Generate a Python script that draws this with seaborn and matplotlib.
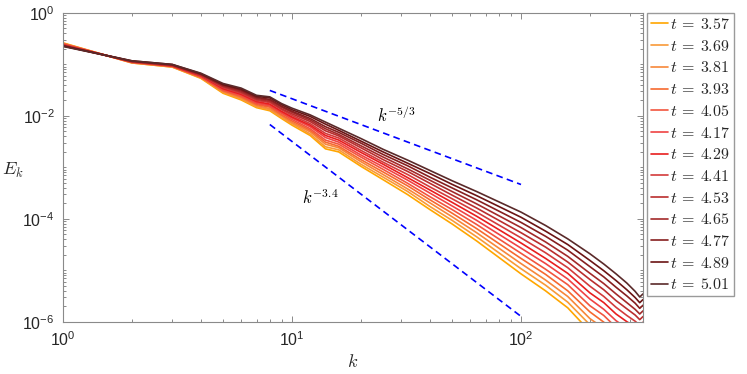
import numpy as np
import pandas as pd
import matplotlib
matplotlib.use("Agg")
import matplotlib.pyplot as plt
import seaborn as sns
from matplotlib.ticker import FixedLocator, LogLocator, NullFormatter

# ---------------- data ----------------
k = [1, 2, 3, 4, 5, 6, 7, 8, 9, 10, 12, 14, 16, 20, 25, 32, 40, 50, 64, 80,
     100, 128, 160, 200, 230, 260, 290, 315, 330, 341]

times = ["3.57", "3.69", "3.81", "3.93", "4.05", "4.17", "4.29", "4.41",
         "4.53", "4.65", "4.77", "4.89", "5.01"]

# log10(E_k), one list per time
logE_357 = [-0.58, -0.97, -1.05, -1.27, -1.56, -1.69, -1.84, -1.90, -2.05, -2.18, -2.38, -2.64, -2.70, -2.98, -3.24, -3.53, -3.82, -4.10, -4.43, -4.75, -5.07, -5.40, -5.73, -6.19, -6.38, -6.63, -6.75, -6.79, -6.84, -6.78]
logE_369 = [-0.59, -0.97, -1.05, -1.26, -1.54, -1.67, -1.82, -1.88, -2.03, -2.15, -2.35, -2.60, -2.66, -2.94, -3.19, -3.47, -3.76, -4.03, -4.35, -4.66, -4.97, -5.29, -5.62, -6.06, -6.26, -6.50, -6.63, -6.68, -6.73, -6.67]
logE_381 = [-0.59, -0.96, -1.04, -1.25, -1.53, -1.65, -1.80, -1.86, -2.00, -2.13, -2.31, -2.55, -2.62, -2.89, -3.14, -3.42, -3.69, -3.96, -4.27, -4.57, -4.87, -5.19, -5.51, -5.94, -6.13, -6.37, -6.50, -6.56, -6.62, -6.56]
logE_393 = [-0.60, -0.96, -1.04, -1.25, -1.51, -1.63, -1.78, -1.83, -1.98, -2.10, -2.28, -2.51, -2.59, -2.85, -3.09, -3.36, -3.63, -3.89, -4.19, -4.48, -4.77, -5.08, -5.40, -5.81, -6.01, -6.24, -6.38, -6.45, -6.51, -6.45]
logE_405 = [-0.60, -0.96, -1.03, -1.24, -1.50, -1.61, -1.76, -1.81, -1.95, -2.07, -2.25, -2.47, -2.55, -2.80, -3.04, -3.31, -3.57, -3.82, -4.11, -4.39, -4.67, -4.98, -5.28, -5.69, -5.88, -6.11, -6.25, -6.33, -6.40, -6.34]
logE_417 = [-0.61, -0.95, -1.03, -1.23, -1.48, -1.59, -1.74, -1.79, -1.93, -2.04, -2.21, -2.42, -2.51, -2.76, -2.99, -3.25, -3.50, -3.75, -4.03, -4.30, -4.57, -4.87, -5.17, -5.56, -5.76, -5.98, -6.13, -6.22, -6.29, -6.23]
logE_429 = [-0.62, -0.95, -1.03, -1.22, -1.47, -1.58, -1.72, -1.77, -1.91, -2.02, -2.18, -2.38, -2.47, -2.71, -2.94, -3.20, -3.44, -3.68, -3.95, -4.21, -4.47, -4.77, -5.06, -5.44, -5.63, -5.85, -6.00, -6.10, -6.18, -6.12]
logE_441 = [-0.62, -0.95, -1.02, -1.21, -1.45, -1.56, -1.70, -1.74, -1.88, -1.99, -2.15, -2.34, -2.43, -2.67, -2.90, -3.14, -3.38, -3.61, -3.87, -4.12, -4.37, -4.66, -4.95, -5.31, -5.51, -5.72, -5.88, -5.99, -6.07, -6.01]
logE_453 = [-0.63, -0.94, -1.02, -1.20, -1.43, -1.54, -1.68, -1.72, -1.86, -1.96, -2.11, -2.29, -2.39, -2.62, -2.85, -3.08, -3.31, -3.54, -3.79, -4.03, -4.27, -4.55, -4.84, -5.18, -5.38, -5.59, -5.75, -5.87, -5.96, -5.90]
logE_465 = [-0.63, -0.94, -1.01, -1.20, -1.42, -1.52, -1.66, -1.70, -1.83, -1.93, -2.08, -2.25, -2.36, -2.58, -2.80, -3.03, -3.25, -3.47, -3.71, -3.94, -4.17, -4.45, -4.73, -5.06, -5.26, -5.46, -5.63, -5.76, -5.85, -5.79]
logE_477 = [-0.64, -0.94, -1.01, -1.19, -1.40, -1.50, -1.64, -1.68, -1.81, -1.91, -2.05, -2.21, -2.32, -2.53, -2.75, -2.97, -3.19, -3.40, -3.63, -3.85, -4.07, -4.34, -4.61, -4.93, -5.13, -5.33, -5.50, -5.64, -5.74, -5.68]
logE_489 = [-0.64, -0.93, -1.00, -1.18, -1.39, -1.48, -1.62, -1.65, -1.78, -1.88, -2.01, -2.16, -2.28, -2.49, -2.70, -2.92, -3.12, -3.33, -3.55, -3.76, -3.97, -4.24, -4.50, -4.81, -5.01, -5.20, -5.38, -5.53, -5.63, -5.57]
logE_501 = [-0.65, -0.93, -1.00, -1.17, -1.37, -1.46, -1.60, -1.63, -1.76, -1.85, -1.98, -2.12, -2.24, -2.44, -2.65, -2.86, -3.06, -3.26, -3.47, -3.67, -3.87, -4.13, -4.39, -4.68, -4.88, -5.07, -5.25, -5.41, -5.52, -5.46]

series = [logE_357, logE_369, logE_381, logE_393, logE_405, logE_417, logE_429,
          logE_441, logE_453, logE_465, logE_477, logE_489, logE_501]

colors = ["#FFA600", "#F89A38", "#F7873A", "#F6692F", "#F2553E", "#EF4343",
          "#E81E1E", "#D33B3B", "#BA2E2E", "#A32A2A", "#861F1F", "#6B1414",
          "#5A2A2A"]

# reference power laws E = C k^p drawn over k in [8, 100]
ref_k = [8, 100]
ref_C = [1.0, 8.0]
ref_p = [-5.0 / 3.0, -3.4]
ref_text = [r"$k^{-5/3}$", r"$k^{-3.4}$"]
ref_text_pos = [(23.5, 10 ** -1.98), (11.1, 10 ** -3.58)]

# ---------------- style ----------------
sns.set_theme(style="white")
plt.rcParams["font.family"] = ["Liberation Sans", "DejaVu Sans"]
plt.rcParams["mathtext.fontset"] = "cm"

fig = plt.figure(figsize=(7.47, 3.74), dpi=100)
ax = fig.add_axes([63 / 747, 1 - 321.7 / 374, 580 / 747, 308.7 / 374])

labels = [r"$t\:=\:" + t + "$" for t in times]
rows = []
for lab, le in zip(labels, series):
    for kk, v in zip(k, le):
        rows.append({"k": kk, "E": 10 ** v, "t": lab})
df = pd.DataFrame(rows)

sns.lineplot(data=df, x="k", y="E", hue="t", palette=colors, linewidth=1.2,
             sort=False, estimator=None, ax=ax)

kr = np.array(ref_k, dtype=float)
for C, p in zip(ref_C, ref_p):
    sns.lineplot(x=kr, y=C * kr ** p, color="blue", linewidth=1.2,
                 linestyle=(0, (4, 2.6)), ax=ax, legend=False)
for (tx, ty), s in zip(ref_text_pos, ref_text):
    ax.text(tx, ty, s, fontsize=12, va="center", ha="left", color="black")

ax.set_xscale("log")
ax.set_yscale("log")
ax.set_xlim(1, 341)
ax.set_ylim(1e-6, 1)

ax.yaxis.set_major_locator(FixedLocator([1e-6, 1e-4, 1e-2, 1]))
ax.yaxis.set_minor_locator(LogLocator(base=10, subs=np.arange(1, 10), numticks=50))
ax.yaxis.set_minor_formatter(NullFormatter())
ax.xaxis.set_major_locator(LogLocator(base=10, numticks=10))
ax.xaxis.set_minor_locator(LogLocator(base=10, subs=np.arange(2, 10), numticks=50))
ax.xaxis.set_minor_formatter(NullFormatter())

ax.tick_params(which="both", direction="in", top=True, right=True, bottom=True,
               left=True, color="#8a8a8a", labelsize=11.5, labelcolor="#262626",
               width=0.7)
ax.tick_params(which="major", length=4.5, pad=6)
ax.tick_params(which="minor", length=2.2)
for sp in ax.spines.values():
    sp.set_color("#8a8a8a")
    sp.set_linewidth(0.8)

ax.set_xlabel("$k$", fontsize=13, labelpad=4)
ax.set_ylabel("$E_k$", fontsize=13, rotation=0, va="center", ha="center")
ax.yaxis.set_label_coords(-0.086, 0.49)

handles = ax.get_lines()[:len(times)]
ax.legend(handles, labels, loc="upper left",
          bbox_to_anchor=(647 / 747, 1 - 13 / 374), bbox_transform=fig.transFigure,
          fontsize=11.5, frameon=True, fancybox=False, edgecolor="#9a9a9a",
          framealpha=1, borderpad=0.25, labelspacing=0.42, handlelength=1.05,
          handletextpad=0.12, borderaxespad=0)

fig.savefig("out.png", dpi=100)
